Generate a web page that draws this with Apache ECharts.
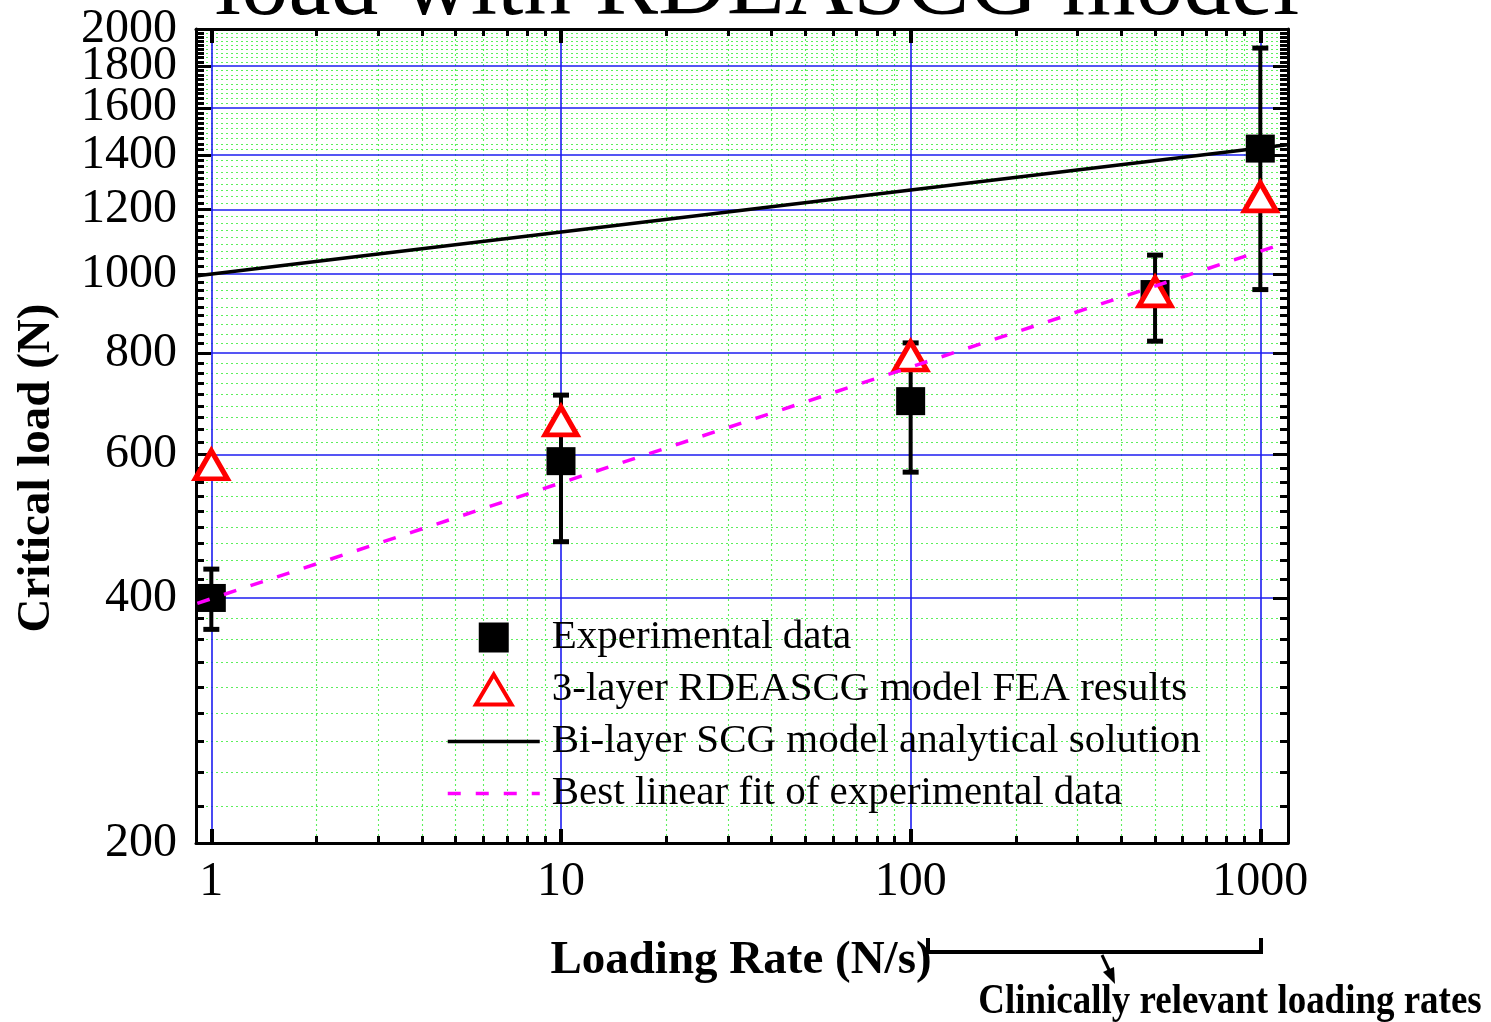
<!DOCTYPE html>
<html>
<head>
<meta charset="utf-8">
<title>Critical load vs loading rate</title>
<script src="https://cdn.jsdelivr.net/npm/echarts@6.0.0/dist/echarts.min.js"></script>
<style>
  html, body { margin: 0; padding: 0; background: #ffffff; }
  #chart { width: 1491px; height: 1022px; }
</style>
</head>
<body>
<div id="chart"></div>
<script>
// ---- data (loading rate in N/s, critical load in N) ----
const expRates = [1, 10, 100, 500, 1000];
const expLoad  = [400, 589, 698, 945, 1426];
const expLow   = [366, 469, 571, 827, 957];
const expHigh  = [434, 710, 823, 1055, 1895];

const feaRates = [1, 10, 100, 500, 1000];
const feaLoad  = [583, 660, 793, 951, 1244];

const bilayerRates = [0.912, 1194];
const bilayerLoad  = [995, 1442];

const fitRates = [0.912, 1194];
const fitLoad  = [394, 1094];

// ---- axis ticks ----
const xMajorTicks = [1, 10, 100, 1000];
const xMinorTicks = [2, 3, 4, 5, 6, 7, 8, 9, 20, 30, 40, 50, 60, 70, 80, 90, 200, 300, 400, 500, 600, 700, 800, 900];
const yMajorTicks = [200, 400, 600, 800, 1000, 1200, 1400, 1600, 1800, 2000];
// the crowded upper labels are printed by two stacked left axes, alternating
const yLabelsA = [200, 600, 1000, 1400, 1800];
const yLabelsB = [400, 800, 1200, 1600, 2000];
const yMinorPerMajor = 9;            // each 200 N step is split in nine

const xRange = [0.904, 1200];
const yRange = [200, 2000];

const lg = Math.log10;
const yMinorTicks = [];
for (let i = 0; i < yMajorTicks.length - 1; i++) {
  const a = yMajorTicks[i], b = yMajorTicks[i + 1];
  for (let k = 1; k < yMinorPerMajor; k++) yMinorTicks.push(a + (b - a) * k / yMinorPerMajor);
}

const SERIF = "'Liberation Serif', 'Times New Roman', serif";
const xMin = lg(xRange[0]), xMax = lg(xRange[1]);
const yMin = lg(yRange[0]), yMax = lg(yRange[1]);

function logAxis(base, opts) {
  return Object.assign({
    type: 'value', min: base.min, max: base.max, scale: true,
    axisLine: { show: false, onZero: false },
    axisTick: { show: false },
    axisLabel: { show: false },
    splitLine: { show: false }
  }, opts);
}

const xb = { min: xMin, max: xMax };
const yb = { min: yMin, max: yMax };
const frame = { show: true, onZero: false, lineStyle: { color: '#000', width: 3 } };
const greenDots = { show: true, lineStyle: { color: '#5cf05c', width: 1.1, type: [2, 3] } };
const blueLine = { show: true, lineStyle: { color: '#1c1cf0', width: 1.6 } };
const tickLabel = {
  show: true, margin: 16, color: '#000', fontFamily: SERIF, fontSize: 48,
  showMinLabel: true, showMaxLabel: true, hideOverlap: false,
  formatter: v => String(Math.round(Math.pow(10, v)))
};

const xAxes = [
  // minor grid + ticks, bottom
  logAxis(xb, { position: 'bottom', z: 0,
    axisTick: { show: true, inside: true, length: 7, lineStyle: { color: '#000', width: 3 }, customValues: xMinorTicks.map(lg) },
    splitLine: greenDots }),
  // major grid + labels, bottom
  logAxis(xb, { position: 'bottom', z: 1, axisLine: frame,
    axisTick: { show: true, inside: true, length: 14, lineStyle: { color: '#000', width: 4 }, customValues: xMajorTicks.map(lg) },
    axisLabel: Object.assign({}, tickLabel, { customValues: xMajorTicks.map(lg), margin: 15 }),
    splitLine: blueLine }),
  // top frame ticks
  logAxis(xb, { position: 'top', z: 0,
    axisTick: { show: true, inside: true, length: 7, lineStyle: { color: '#000', width: 3 }, customValues: xMinorTicks.map(lg) } }),
  logAxis(xb, { position: 'top', z: 1, axisLine: frame,
    axisTick: { show: true, inside: true, length: 14, lineStyle: { color: '#000', width: 4 }, customValues: xMajorTicks.map(lg) } })
];

const yAxes = [
  logAxis(yb, { position: 'left', z: 0,
    axisTick: { show: true, inside: true, length: 8, lineStyle: { color: '#000', width: 3 }, customValues: yMinorTicks.map(lg) },
    axisLabel: Object.assign({}, tickLabel, { customValues: yLabelsB.map(lg), margin: 19 }),
    splitLine: greenDots }),
  logAxis(yb, { position: 'left', z: 1, axisLine: frame,
    axisTick: { show: true, inside: true, length: 15, lineStyle: { color: '#000', width: 3 }, customValues: yMajorTicks.map(lg) },
    axisLabel: Object.assign({}, tickLabel, { customValues: yLabelsA.map(lg), margin: 19 }),
    splitLine: blueLine }),
  logAxis(yb, { position: 'right', z: 0,
    axisTick: { show: true, inside: true, length: 8, lineStyle: { color: '#000', width: 3 }, customValues: yMinorTicks.map(lg) } }),
  logAxis(yb, { position: 'right', z: 1, axisLine: frame,
    axisTick: { show: true, inside: true, length: 15, lineStyle: { color: '#000', width: 3 }, customValues: yMajorTicks.map(lg) } })
];

const pts = (xs, ys) => xs.map((x, i) => [lg(x), lg(ys[i])]);
const errData = expRates.map((x, i) => [lg(x), lg(expLow[i]), lg(expHigh[i])]);

const NAMES = {
  exp: 'Experimental data',
  fea: '3-layer RDEASCG model FEA results',
  bi: 'Bi-layer SCG model analytical solution',
  fit: 'Best linear fit of experimental data'
};

const chart = echarts.init(document.getElementById('chart'), null, { renderer: 'canvas' });

chart.setOption({
  animation: false,
  backgroundColor: '#ffffff',
  grid: { left: 196, right: 203, top: 29, bottom: 179, containLabel: false, outerBoundsMode: 'none' },
  xAxis: xAxes,
  yAxis: yAxes,
  legend: {
    orient: 'vertical',
    left: 441, top: 612,
    itemWidth: 92, itemHeight: 30, itemGap: 11,
    padding: 5,
    selectedMode: false,
    textStyle: { color: '#000', fontFamily: SERIF, fontSize: 41, lineHeight: 40, padding: [0, 0, 0, 7] },
    data: [
      { name: NAMES.exp, icon: 'path://M0,0H10V10H0Z', itemStyle: { color: '#000', opacity: 1 } },
      { name: NAMES.fea, icon: 'path://M19,0L38,32L0,32Z',
        itemStyle: { color: '#ffffff', borderColor: '#ff0000', borderWidth: 4, opacity: 1 } },
      { name: NAMES.bi, itemStyle: { opacity: 0 }, lineStyle: { color: '#000', width: 3.5 } },
      { name: NAMES.fit, itemStyle: { opacity: 0 }, lineStyle: { color: '#ff00ff', width: 3.5, type: [13, 15] } }
    ]
  },
  series: [
    {
      name: 'error bars', type: 'custom', xAxisIndex: 1, yAxisIndex: 1, z: 3,
      data: errData,
      encode: { x: 0, y: [1, 2] },
      renderItem: function (params, api) {
        const x = api.value(0);
        const top = api.coord([x, api.value(2)]);
        const bot = api.coord([x, api.value(1)]);
        const cw = 16;
        return {
          type: 'group',
          children: [
            { type: 'line', shape: { x1: top[0], y1: top[1], x2: bot[0], y2: bot[1] }, style: { stroke: '#000', lineWidth: 4 } },
            { type: 'line', shape: { x1: top[0] - cw / 2, y1: top[1], x2: top[0] + cw / 2, y2: top[1] }, style: { stroke: '#000', lineWidth: 5 } },
            { type: 'line', shape: { x1: bot[0] - cw / 2, y1: bot[1], x2: bot[0] + cw / 2, y2: bot[1] }, style: { stroke: '#000', lineWidth: 5 } }
          ]
        };
      }
    },
    {
      name: NAMES.exp, type: 'scatter', xAxisIndex: 1, yAxisIndex: 1, z: 4,
      symbol: 'rect', symbolSize: [29, 28],
      itemStyle: { color: '#000', opacity: 1 },
      data: pts(expRates, expLoad)
    },
    {
      name: NAMES.fea, type: 'scatter', xAxisIndex: 1, yAxisIndex: 1, z: 5,
      symbol: 'triangle', symbolSize: [32, 28],
      itemStyle: { color: '#ffffff', borderColor: '#ff0000', borderWidth: 5, opacity: 1 },
      data: pts(feaRates, feaLoad)
    },
    {
      name: NAMES.bi, type: 'line', xAxisIndex: 1, yAxisIndex: 1, z: 6,
      symbol: 'none', lineStyle: { color: '#000', width: 3.5 },
      itemStyle: { color: '#000' },
      data: pts(bilayerRates, bilayerLoad)
    },
    {
      name: NAMES.fit, type: 'line', xAxisIndex: 1, yAxisIndex: 1, z: 7,
      symbol: 'none', lineStyle: { color: '#ff00ff', width: 3.5, type: [13, 15] },
      itemStyle: { color: '#ff00ff' },
      data: pts(fitRates, fitLoad)
    }
  ],
  graphic: [
    { type: 'text', x: 757, y: -11, silent: true,
      style: { text: 'load with RDEASCG model', font: '95px ' + SERIF, fill: '#000',
        align: 'center', verticalAlign: 'middle', textAlign: 'center', textVerticalAlign: 'middle' } },
    { type: 'text', x: 37, y: 468, rotation: Math.PI / 2, silent: true,
      style: { text: 'Critical load (N)', font: 'bold 47px ' + SERIF, fill: '#000',
        align: 'center', verticalAlign: 'middle', textAlign: 'center', textVerticalAlign: 'middle' } },
    { type: 'text', x: 741, y: 961, silent: true,
      style: { text: 'Loading Rate (N/s)', font: 'bold 47px ' + SERIF, fill: '#000',
        align: 'center', verticalAlign: 'middle', textAlign: 'center', textVerticalAlign: 'middle' } },
    { type: 'polyline', silent: true,
      shape: { points: [[928, 938], [928, 952], [1261, 952], [1261, 938]] },
      style: { stroke: '#000', lineWidth: 4, fill: null } },
    { type: 'line', silent: true,
      shape: { x1: 1102, y1: 955, x2: 1110, y2: 972 },
      style: { stroke: '#000', lineWidth: 3 } },
    { type: 'polygon', silent: true,
      shape: { points: [[1115, 984], [1103, 972], [1114, 967]] },
      style: { fill: '#000' } },
    { type: 'text', x: 1230, y: 1002, scaleX: 0.88, silent: true,
      style: { text: 'Clinically relevant loading rates', font: 'bold 42px ' + SERIF, fill: '#000',
        align: 'center', verticalAlign: 'middle', textAlign: 'center', textVerticalAlign: 'middle' } }
  ]
});
</script>
</body>
</html>
